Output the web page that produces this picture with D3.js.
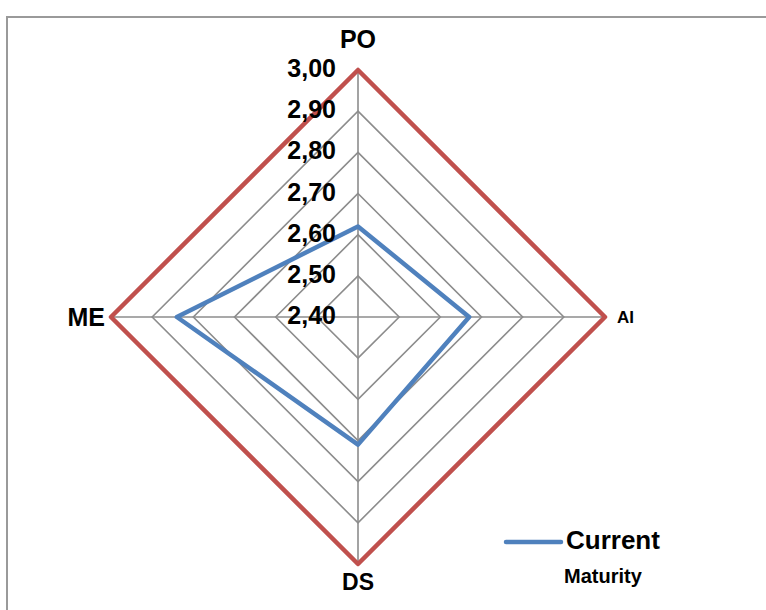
<!DOCTYPE html>
<html>
<head>
<meta charset="utf-8">
<script src="https://cdn.jsdelivr.net/npm/d3@7/dist/d3.min.js"></script>
<style>
  html, body { margin: 0; padding: 0; background: #fff; }
  svg { display: block; font-family: "Liberation Sans", Arial, sans-serif; }
</style>
</head>
<body>
<svg id="chart" width="766" height="610"></svg>
<script>
// Maturity radar: four process domains on a 2,40 – 3,00 scale
const categories = ["PO", "AI", "DS", "ME"];
const currentMaturity = [2.62, 2.67, 2.71, 2.84];
const targetMaturity = [3.00, 3.00, 3.00, 3.00];
const tickValues = [2.40, 2.50, 2.60, 2.70, 2.80, 2.90, 3.00];
const tickLabels = ["2,40", "2,50", "2,60", "2,70", "2,80", "2,90", "3,00"];
const legendLines = ["Current", "Maturity"];

const svg = d3.select("#chart");
const cx = 358, cy = 317;
const r = d3.scaleLinear().domain([2.40, 3.00]).range([0, 247]);
const angle = d3.scalePoint().domain(categories).range([0, 2 * Math.PI * 3 / 4]);

const pt = (cat, v) => {
  const a = angle(cat);
  return [cx + r(v) * Math.sin(a), cy - r(v) * Math.cos(a)];
};

// outer frame
svg.append("path")
  .attr("d", "M7,610 V17 H766")
  .attr("fill", "none")
  .attr("stroke", "#9a9a9a")
  .attr("stroke-width", 2);

const g = svg.append("g");

// grid rings
const ring = d3.line();
g.selectAll("path.ring")
  .data(tickValues.slice(1))
  .join("path")
  .attr("class", "ring")
  .attr("d", v => ring(categories.map(c => pt(c, v))) + "Z")
  .attr("fill", "none")
  .attr("stroke", "#8c8c8c")
  .attr("stroke-width", 1.6);

// spokes
g.selectAll("line.spoke")
  .data(categories)
  .join("line")
  .attr("class", "spoke")
  .attr("x1", cx).attr("y1", cy)
  .attr("x2", c => pt(c, 3.0)[0])
  .attr("y2", c => pt(c, 3.0)[1])
  .attr("stroke", "#8c8c8c")
  .attr("stroke-width", 1.6);

// series
const seriesLine = d3.line().curve(d3.curveLinearClosed);
g.append("path")
  .attr("d", seriesLine(categories.map((c, i) => pt(c, targetMaturity[i]))))
  .attr("fill", "none")
  .attr("stroke", "#c0504d")
  .attr("stroke-width", 4.5)
  .attr("stroke-linejoin", "round");

g.append("path")
  .attr("d", seriesLine(categories.map((c, i) => pt(c, currentMaturity[i]))))
  .attr("fill", "none")
  .attr("stroke", "#4f81bd")
  .attr("stroke-width", 4.5)
  .attr("stroke-linejoin", "round");

// value labels along the top spoke
g.selectAll("text.tick")
  .data(tickValues)
  .join("text")
  .attr("class", "tick")
  .attr("x", cx - 22)
  .attr("y", v => cy - r(v) - 2)
  .attr("dy", "0.36em")
  .attr("text-anchor", "end")
  .attr("font-size", 25)
  .attr("font-weight", "bold")
  .attr("fill", "#000")
  .text((v, i) => tickLabels[i]);

// category labels
const catStyle = {
  PO: { dx: 0, dy: -31, anchor: "middle", size: 25 },
  AI: { dx: 12, dy: 0, anchor: "start", size: 17 },
  DS: { dx: 0, dy: 18, anchor: "middle", size: 23 },
  ME: { dx: -6, dy: 0, anchor: "end", size: 25 }
};
g.selectAll("text.cat")
  .data(categories)
  .join("text")
  .attr("class", "cat")
  .attr("x", c => pt(c, 3.0)[0] + catStyle[c].dx)
  .attr("y", c => pt(c, 3.0)[1] + catStyle[c].dy)
  .attr("dy", "0.36em")
  .attr("text-anchor", c => catStyle[c].anchor)
  .attr("font-size", c => catStyle[c].size)
  .attr("font-weight", "bold")
  .attr("fill", "#000")
  .text(c => c);

// legend
const lg = svg.append("g").attr("transform", "translate(506,542)");
lg.append("line")
  .attr("x1", 0).attr("x2", 55).attr("y1", 0).attr("y2", 0)
  .attr("stroke", "#4f81bd").attr("stroke-width", 4.5).attr("stroke-linecap", "round");
lg.append("text")
  .attr("x", 60).attr("y", 7)
  .attr("font-size", 26).attr("font-weight", "bold")
  .text(legendLines[0]);
lg.append("text")
  .attr("x", 58).attr("y", 41)
  .attr("font-size", 20).attr("font-weight", "bold")
  .text(legendLines[1]);
</script>
</body>
</html>
